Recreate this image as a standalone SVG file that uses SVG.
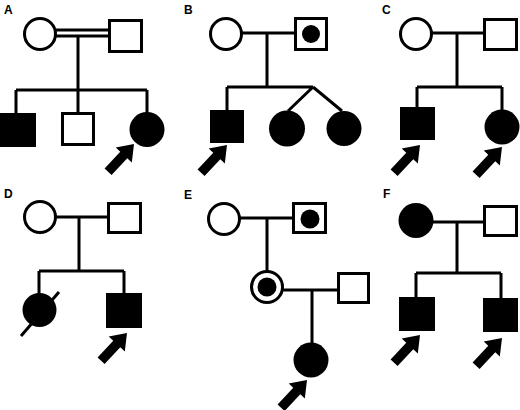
<svg xmlns="http://www.w3.org/2000/svg" width="520" height="410" viewBox="0 0 520 410">
<style>
.l{stroke:#000;stroke-width:3;fill:none}
.o{fill:#fff;stroke:#000;stroke-width:3}
.f{fill:#000}
.t{font-family:"Liberation Sans",Arial,sans-serif;font-weight:bold;font-size:12px;fill:#000}
</style>
<defs>
<path id="arr" d="M-38,-4.8 L-15,-4.8 L-15,-11 L0,0 L-15,11 L-15,4.8 L-38,4.8 Z" fill="#000"/>
</defs>
<rect width="520" height="410" fill="#fff"/>
<g id="labels">
<text class="t" x="4" y="14">A</text>
<text class="t" x="184" y="14">B</text>
<text class="t" x="382" y="14">C</text>
<text class="t" x="4" y="198">D</text>
<text class="t" x="184" y="199">E</text>
<text class="t" x="383" y="198">F</text>
</g>
<g id="connectors">
<!-- A -->
<path class="l" d="M55,30 H110 M55,36 H110 M78,36 V90 M16,90 H147 M16,90 V113 M78,90 V113 M147,90 V113"/>
<!-- B -->
<path class="l" d="M241,33 H296 M267,33 V87 M227,87 H313 M227,87 V110 M313,87 L288,111 M313,87 L342,111"/>
<!-- C -->
<path class="l" d="M431,33 H485 M457,33 V87 M417,87 H502 M417,87 V107 M502,87 V110"/>
<!-- D -->
<path class="l" d="M55,217 H109 M79,217 V271 M39,271 H124 M39,271 V294 M124,271 V293"/>
<!-- E -->
<path class="l" d="M239,218 H294 M267,218 V271 M282,290 H339 M312,290 V343"/>
<!-- F -->
<path class="l" d="M433,222 H485 M457,222 V273 M416,273 H501 M416,273 V297 M501,273 V298"/>
</g>
<g id="A">
<circle id="A1" class="o" cx="40" cy="34" r="15.5"/>
<rect id="A2" class="o" x="109.5" y="20.5" width="32" height="31"/>
<rect id="A3" class="f" x="0" y="113" width="36" height="34"/>
<rect id="A4" class="o" x="62.5" y="113.5" width="31" height="31"/>
<circle id="A5" class="f" cx="147" cy="129.5" r="17.5"/>
<use href="#arr" transform="translate(134,144) rotate(-47)"/>
</g>
<g id="B">
<circle id="B1" class="o" cx="226" cy="34" r="15.5"/>
<rect id="B2" class="o" x="295.5" y="18.5" width="31" height="31"/>
<circle class="f" cx="311" cy="34" r="9"/>
<rect id="B3" class="f" x="210" y="110" width="34" height="33"/>
<circle id="B4" class="f" cx="287" cy="128.5" r="18"/>
<circle id="B5" class="f" cx="344" cy="128.5" r="17.5"/>
<use href="#arr" transform="translate(227,145) rotate(-47)"/>
</g>
<g id="C">
<circle id="C1" class="o" cx="416" cy="34" r="15.5"/>
<rect id="C2" class="o" x="484.5" y="19.5" width="32" height="30"/>
<rect id="C3" class="f" x="400" y="107" width="35" height="33"/>
<circle id="C4" class="f" cx="502" cy="127" r="17.5"/>
<use href="#arr" transform="translate(420,145) rotate(-47)"/>
<use href="#arr" transform="translate(502,147) rotate(-47)"/>
</g>
<g id="D">
<circle id="D1" class="o" cx="40" cy="217" r="15.5"/>
<rect id="D2" class="o" x="108.5" y="203.5" width="32" height="29"/>
<circle id="D3" class="f" cx="39.5" cy="310" r="17"/>
<path class="l" d="M21,336 L59,292"/>
<rect id="D4" class="f" x="106" y="293" width="36" height="35"/>
<use href="#arr" transform="translate(127,333) rotate(-47)"/>
</g>
<g id="E">
<circle id="E1" class="o" cx="224" cy="219" r="15.5"/>
<rect id="E2" class="o" x="293.5" y="203.5" width="32" height="29"/>
<circle class="f" cx="310" cy="219" r="9.5"/>
<circle id="E3" class="o" cx="267" cy="287" r="15.5"/>
<circle class="f" cx="267" cy="287" r="9.5"/>
<rect id="E4" class="o" x="338.5" y="273.5" width="30" height="29"/>
<circle id="E5" class="f" cx="311" cy="360" r="17.5"/>
<use href="#arr" transform="translate(307,380) rotate(-47)"/>
</g>
<g id="F">
<circle id="F1" class="f" cx="416" cy="220.5" r="17.5"/>
<rect id="F2" class="o" x="484.5" y="206.5" width="32" height="29"/>
<rect id="F3" class="f" x="399" y="297" width="36" height="34"/>
<rect id="F4" class="f" x="483" y="298" width="35" height="34"/>
<use href="#arr" transform="translate(420,335) rotate(-47)"/>
<use href="#arr" transform="translate(502,338) rotate(-47)"/>
</g>
</svg>
